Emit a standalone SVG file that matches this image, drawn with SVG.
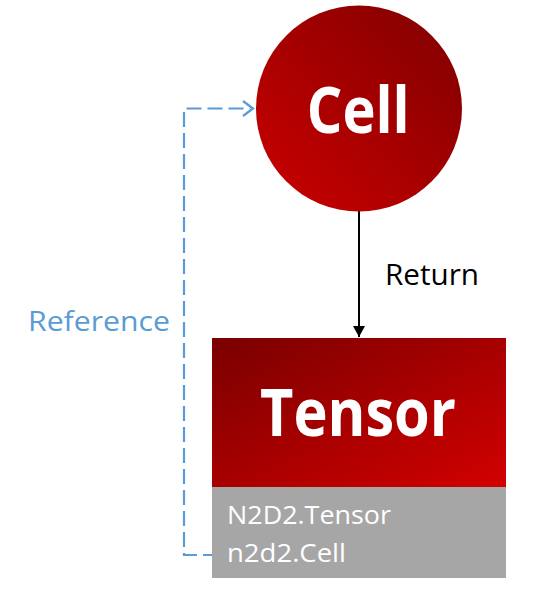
<svg xmlns="http://www.w3.org/2000/svg" width="542" height="601" viewBox="0 0 542 601">
<style>
.t{font-family:"Open Sans","Liberation Sans",sans-serif;}
.w{fill:#fff;font-weight:bold;}
.g{fill:#fff;}
.dash{fill:none;stroke:#5B9BD5;stroke-width:2.2;stroke-dasharray:15 6;}
</style>
<defs>
<linearGradient id="gc" x1="1" y1="0" x2="0" y2="1">
<stop offset="0" stop-color="#7E0000"/>
<stop offset="1" stop-color="#CC0000"/>
</linearGradient>
<linearGradient id="gt" x1="0" y1="0" x2="1" y2="1">
<stop offset="0" stop-color="#7A0000"/>
<stop offset="1" stop-color="#D20000"/>
</linearGradient>
<marker id="ah" viewBox="0 0 11 12" refX="11" refY="6" markerWidth="11" markerHeight="12" markerUnits="userSpaceOnUse" orient="auto">
<path d="M0,0 L11,6 L0,12 Z" fill="#000"/>
</marker>
</defs>
<g id="connectors">
<path class="dash" d="M218,555 H184 V108.5 H250"/>
<path d="M243,101 L253,108.5 L243,116" fill="none" stroke="#5B9BD5" stroke-width="2.2"/>
<line x1="359" y1="209" x2="359" y2="337" stroke="#000" stroke-width="2" marker-end="url(#ah)"/>
<text class="t" x="385" y="285" font-size="29" fill="#000" textLength="94" lengthAdjust="spacingAndGlyphs">Return</text>
<text class="t" x="28" y="331" font-size="28" fill="#5B9BD5" textLength="142" lengthAdjust="spacingAndGlyphs">Reference</text>
</g>
<g id="cell">
<circle cx="359" cy="108.5" r="103" fill="url(#gc)"/>
<text class="t w" x="306.7" y="133" font-size="64" textLength="103" lengthAdjust="spacingAndGlyphs">Cell</text>
</g>
<g id="tensor">
<rect x="212" y="338" width="294" height="149" fill="url(#gt)"/>
<rect x="212" y="487" width="294" height="91" fill="#A6A6A6"/>
<text class="t w" x="260" y="436" font-size="67" textLength="196" lengthAdjust="spacingAndGlyphs">Tensor</text>
<text class="t g" x="227" y="524" font-size="26" textLength="164" lengthAdjust="spacingAndGlyphs">N2D2.Tensor</text>
<text class="t g" x="227" y="561.7" font-size="26" textLength="119" lengthAdjust="spacingAndGlyphs">n2d2.Cell</text>
</g>
</svg>
